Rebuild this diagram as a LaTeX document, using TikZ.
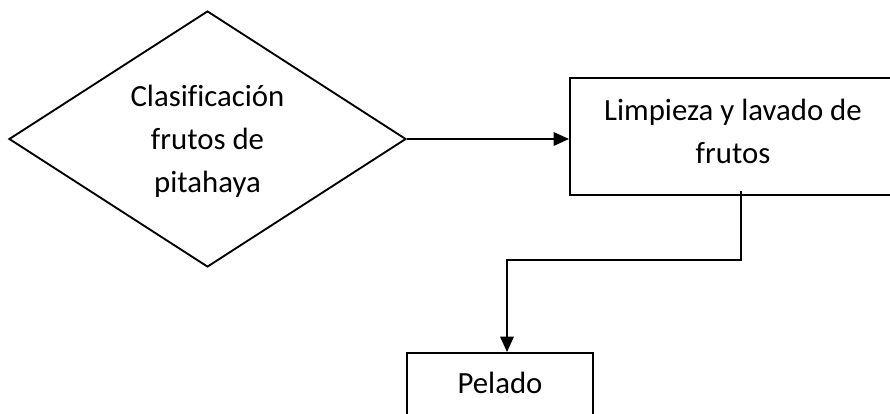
\documentclass[tikz,border=0pt]{standalone}
\usepackage{fontspec}
\setmainfont[Ligatures=NoCommon]{Carlito}
\usetikzlibrary{shapes.geometric,arrows.meta}
\begin{document}
\begin{tikzpicture}[x=0.75pt,y=-0.75pt,
  line width=1.4pt,
  box/.style={draw, rectangle, inner sep=0pt},
  decision/.style={draw, diamond, inner sep=0pt},
  caption/.style={font=\fontsize{23.1}{32.25}\selectfont, align=center, inner sep=0pt},
  flow/.style={-{Triangle[length=11.5pt,width=10pt]}}]
\useasboundingbox (0,0) rectangle (890,414);
\clip (0,0) rectangle (890,414);

% decision diamond
\node[decision, minimum width=297.75pt, minimum height=192pt] (dia) at (207.5,139) {};
\node[caption] (diatext) at (207.5,141) {Clasificación\\frutos de\\pitahaya};

% washing step
\node[box, minimum width=256.5pt, minimum height=87.75pt] (lim) at (741,136.5) {};
\node[caption] (limtext) at (733,131.5) {Limpieza y lavado de\\frutos};

% peeling step
\node[box, minimum width=139.5pt, minimum height=54pt] (pel) at (500,389) {};
\node[caption] (peltext) at (500,383) {Pelado};

% connectors
\draw[flow] (dia.east) -- (dia.east -| lim.west);
\coordinate (bend) at (507,260);
\draw[flow] ([yshift=3.5pt]lim.south) |- (bend) -- (bend |- pel.north);
\end{tikzpicture}
\end{document}
